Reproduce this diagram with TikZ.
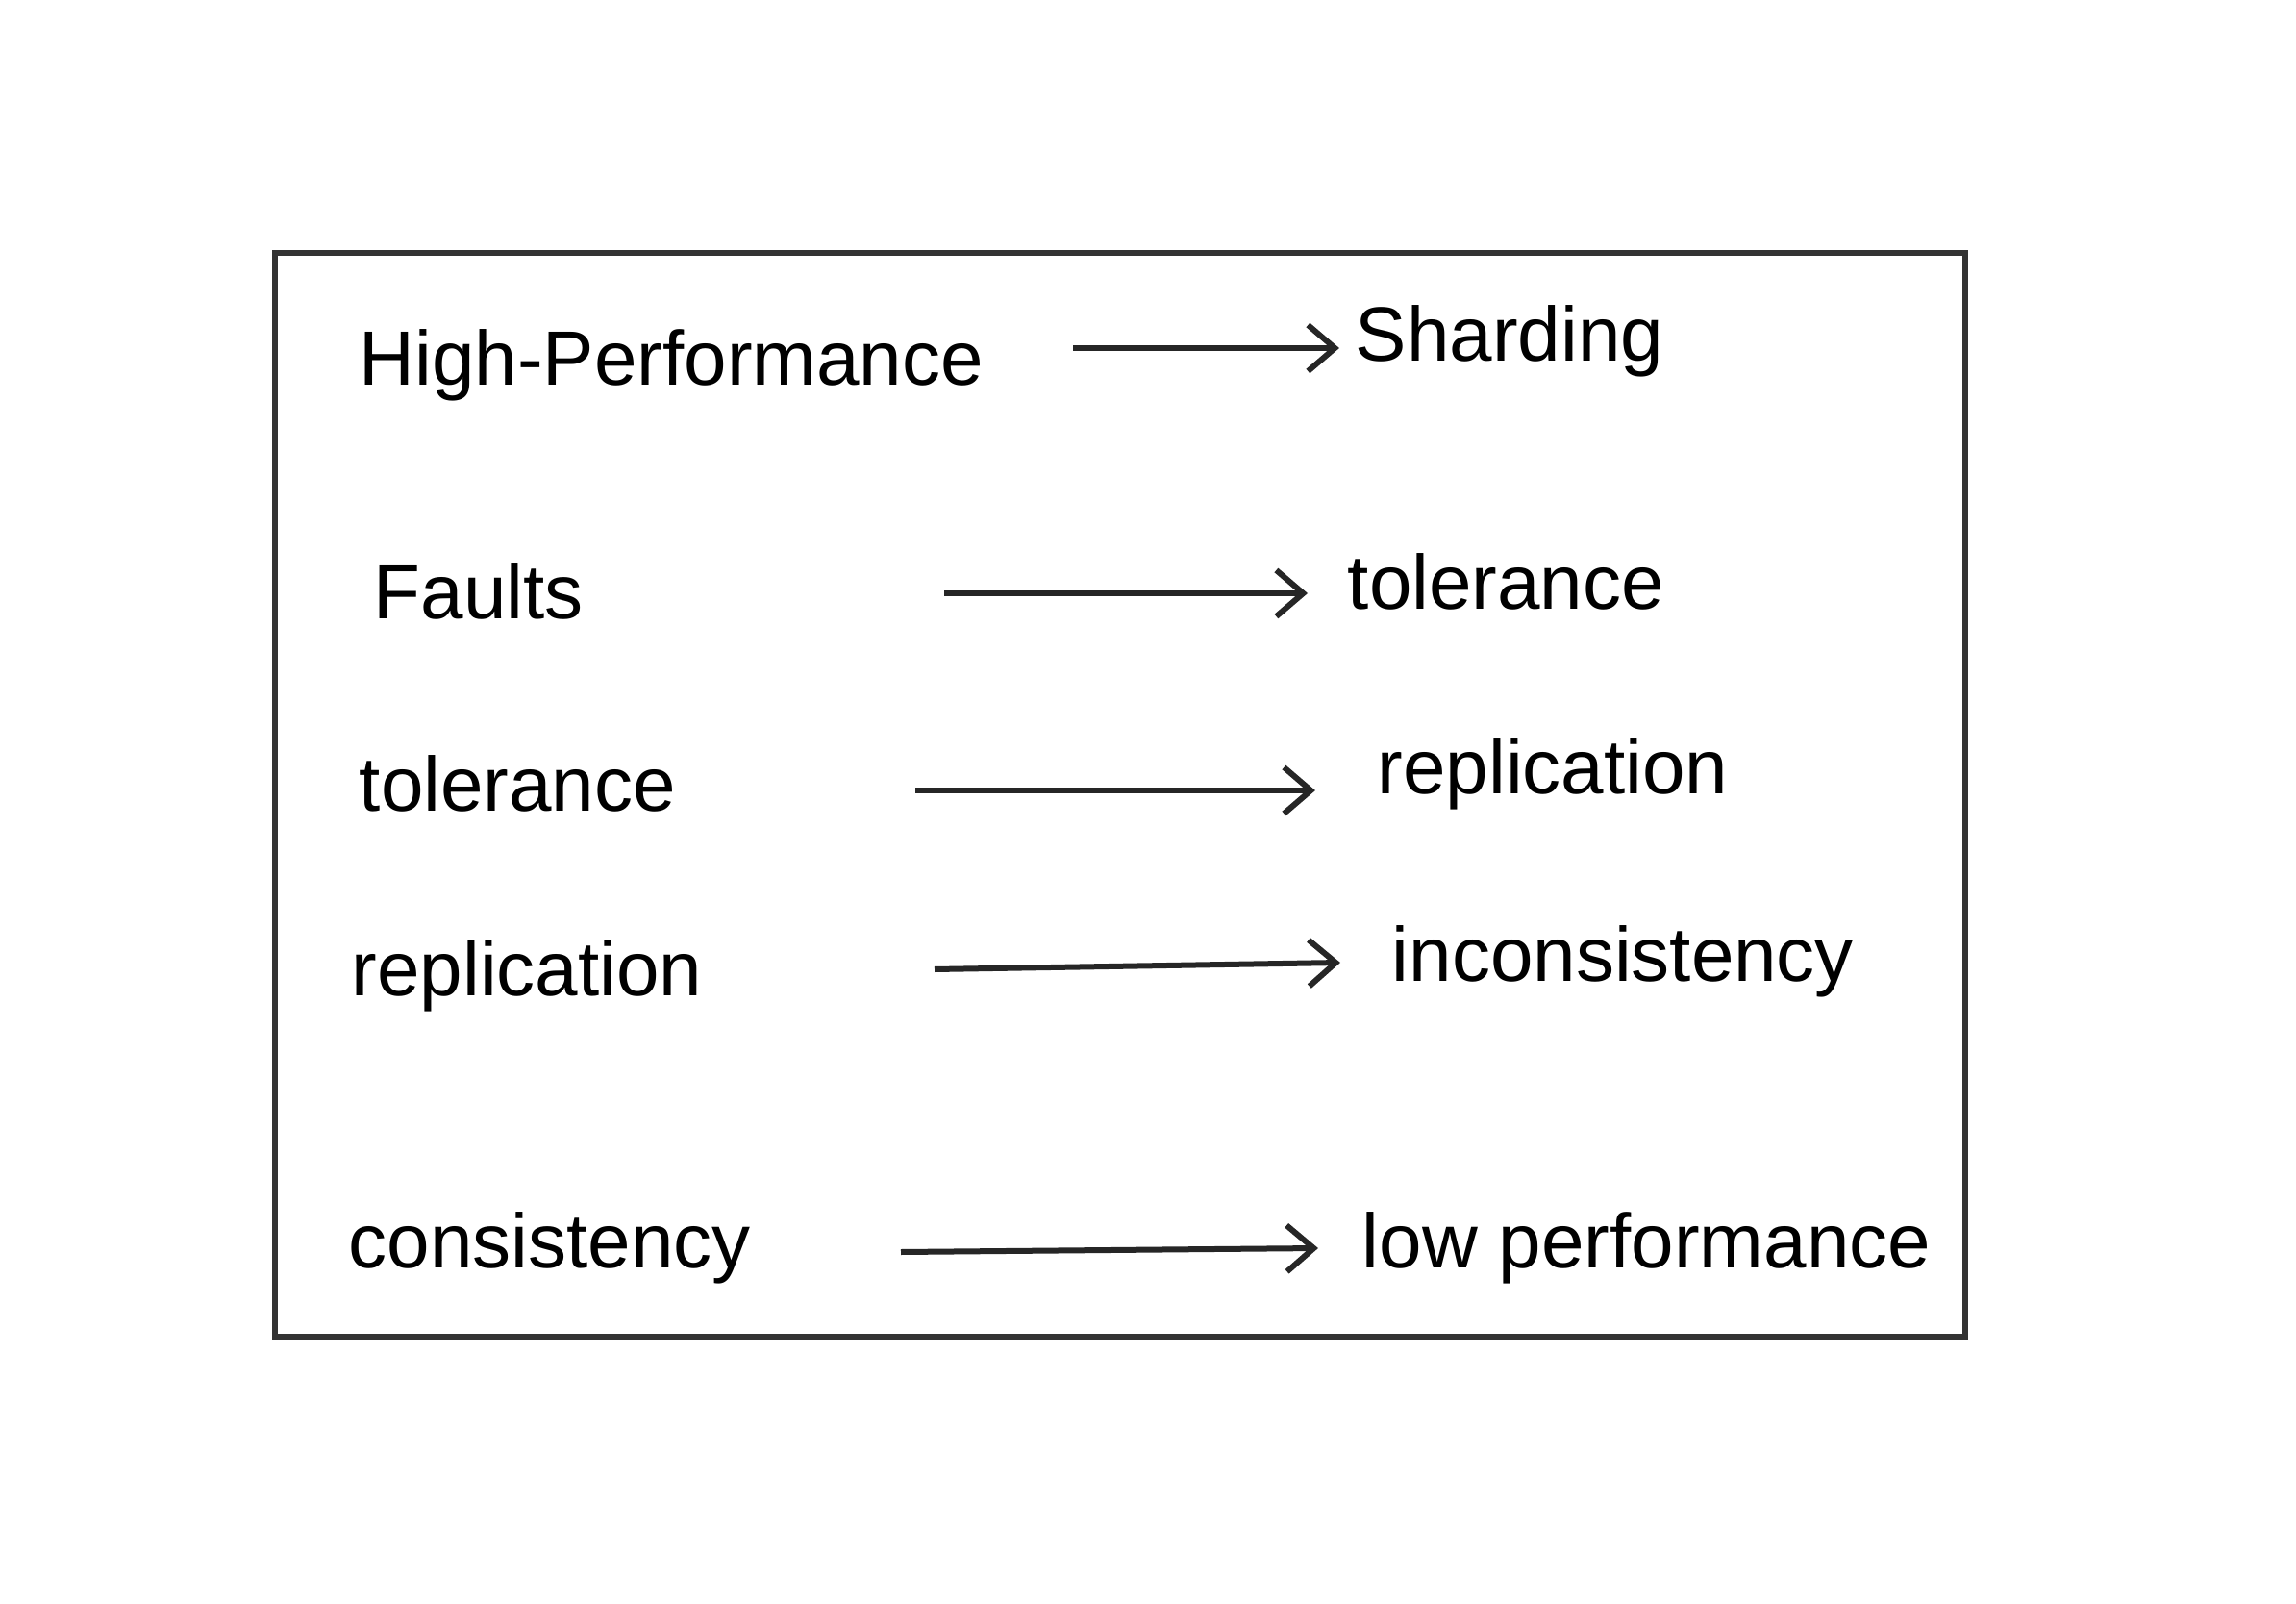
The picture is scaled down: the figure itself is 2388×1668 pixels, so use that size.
\documentclass[tikz,border=0pt]{standalone}
\usepackage{fontspec}
\setmainfont{Liberation Sans}
\usetikzlibrary{arrows.meta}
\begin{document}
\begin{tikzpicture}[x=0.25pt,y=-0.25pt,
  lbl/.style={anchor=west,inner sep=0pt,font=\fontsize{20}{24}\selectfont},
  conn/.style={draw=black!85,line width=1.5pt,-{Straight Barb[length=7pt,width=12pt,line width=1.5pt]}},
  frame/.style={draw=black!80,line width=1.5pt}]
\useasboundingbox (0,0) rectangle (2388,1668);
\draw[frame] (286,263) rectangle (2044,1390);
% left column
\node[lbl] (hp) at (373,380) {High-Performance};
\node[lbl] (fa) at (388,615) {Faults};
\node[lbl] (tl) at (373,815) {tolerance};
\node[lbl] (rl) at (365,1015) {replication};
\node[lbl] (cs) at (362,1298) {consistency};
% right column
\node[lbl] (sh) at (1409,355) {Sharding};
\node[lbl] (tr) at (1401,605) {tolerance};
\node[lbl] (rr) at (1432,805) {replication};
\node[lbl] (ir) at (1447,1000) {inconsistency};
\node[lbl] (lp) at (1416,1298) {low performance};
% arrow ends
\coordinate (a1s) at (1116,362); \coordinate (a1e) at (1393,362);
\coordinate (a2s) at (982,617);  \coordinate (a2e) at (1360,617);
\coordinate (a3s) at (952,822);  \coordinate (a3e) at (1368,822);
\coordinate (a4s) at (972,1008); \coordinate (a4e) at (1394,1001);
\coordinate (a5s) at (937,1302); \coordinate (a5e) at (1371,1298);
\draw[conn] (a1s) -- (a1e);
\draw[conn] (a2s) -- (a2e);
\draw[conn] (a3s) -- (a3e);
\draw[conn] (a4s) -- (a4e);
\draw[conn] (a5s) -- (a5e);
\end{tikzpicture}
\end{document}
